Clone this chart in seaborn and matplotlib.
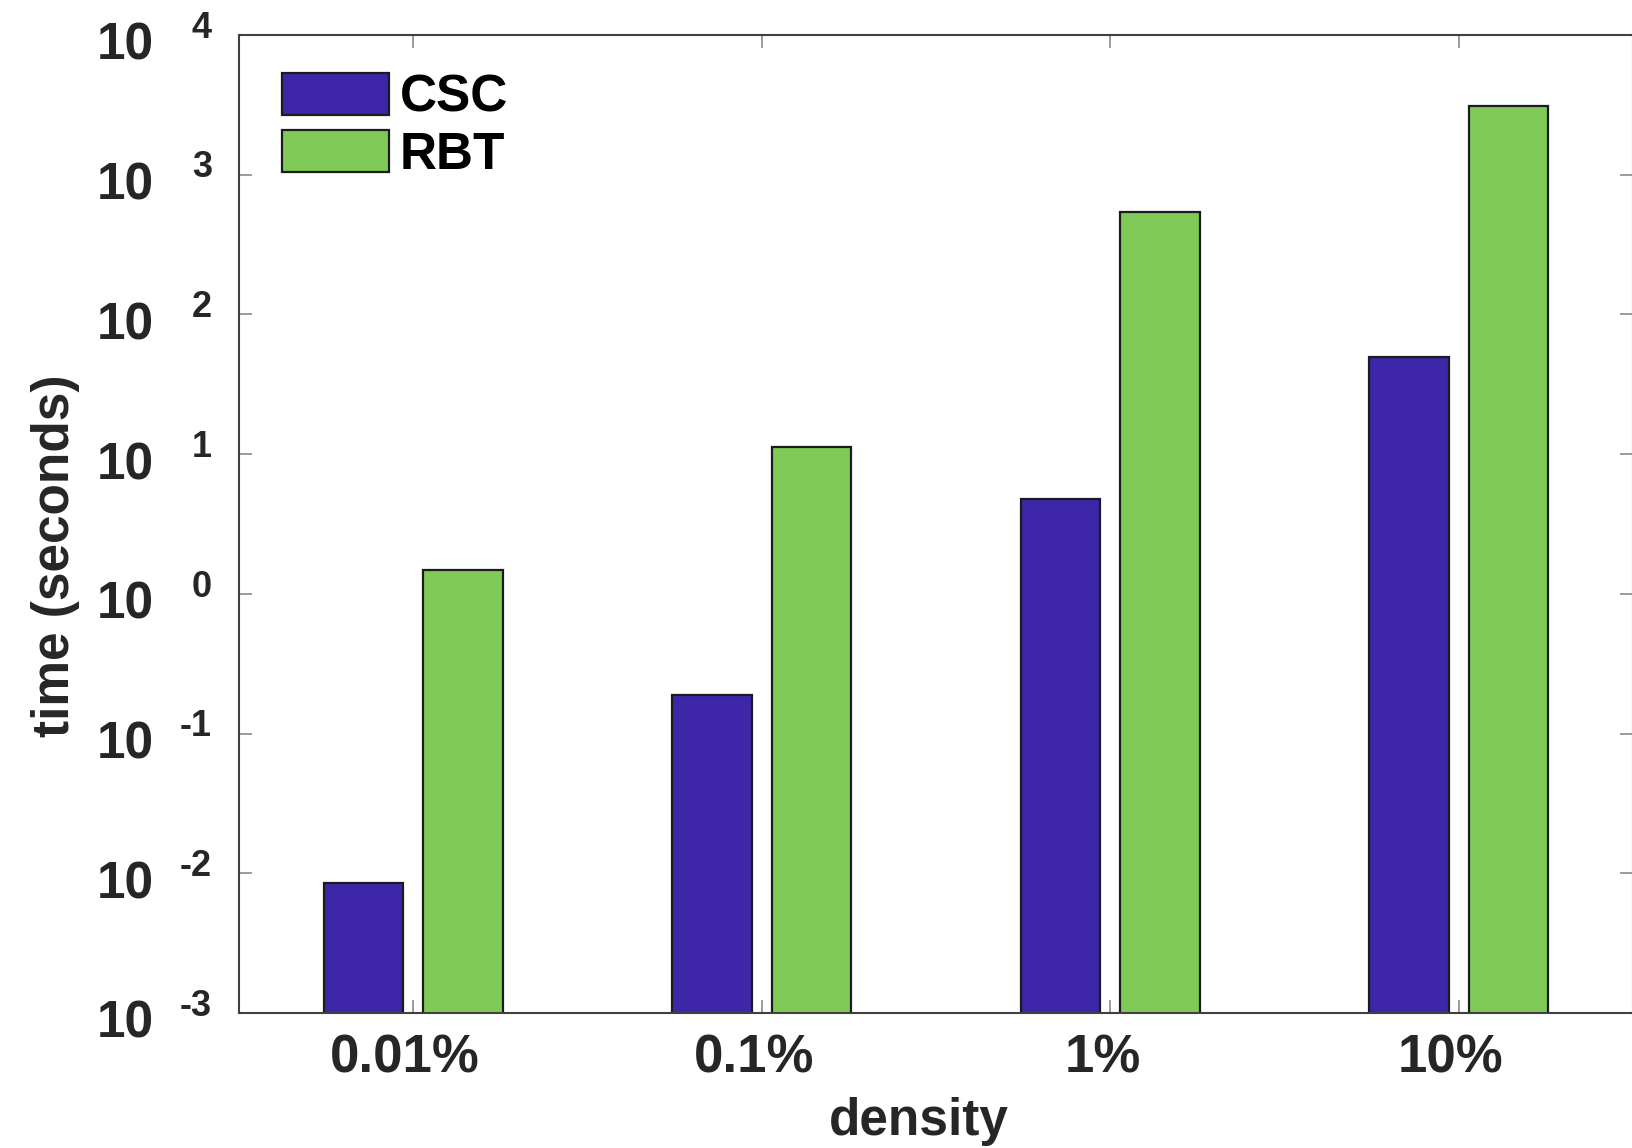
import numpy as np
import pandas as pd
import seaborn as sns
import matplotlib
matplotlib.use("Agg")
import matplotlib.pyplot as plt
from matplotlib.ticker import NullLocator
from matplotlib.transforms import ScaledTranslation

# values (seconds, log axis)
densities = ["0.01%", "0.1%", "1%", "10%"]
methods = ["CSC", "RBT"]
csc_time = [0.0085, 0.189, 4.78, 49.7]
rbt_time = [1.48, 11.3, 542, 3110]
exponents = [-3, -2, -1, 0, 1, 2, 3, 4]
colors = ["#3D26A8", "#80CB58"]

df = pd.DataFrame({
    "density": densities * 2,
    "time": csc_time + rbt_time,
    "method": ["CSC"] * len(densities) + ["RBT"] * len(densities),
})

sns.set_style("ticks")
plt.rcParams["font.family"] = ["Liberation Sans", "DejaVu Sans"]
plt.rcParams["font.weight"] = "bold"
txt = "#262626"

fig = plt.figure(figsize=(16.32, 11.48), dpi=100)
ax = fig.add_axes([239 / 1632, 1 - 1013 / 1148, 1394 / 1632, 978 / 1148])

sns.barplot(data=df, x="density", y="time", hue="method", order=densities,
            hue_order=methods, palette=colors, saturation=1, width=0.57, gap=0.2,
            edgecolor="#1c1c1c", linewidth=1.6, ax=ax)

ax.set_yscale("log")
ax.set_ylim(1e-3, 1e4)
ax.set_xlim(-0.5, 3.5)
ax.set_yticks([10.0 ** e for e in exponents])
ax.set_yticklabels([])
ax.yaxis.set_minor_locator(NullLocator())

for sp in ax.spines.values():
    sp.set_visible(True)
    sp.set_color("#404040")
    sp.set_linewidth(1.5)

ax.tick_params(axis="both", direction="in", length=9.4, width=1.2, color="#8a8a8a",
               top=True, right=True)
ax.tick_params(axis="x", labelsize=38, labelcolor=txt, pad=15)
shift = ScaledTranslation(-8 / 100, 0, fig.dpi_scale_trans)
for lab in ax.get_xticklabels():
    lab.set_fontweight("bold")
    lab.set_transform(lab.get_transform() + shift)

# MATLAB style 10^n tick labels
for e in exponents:
    ax.annotate("10", xy=(0, 10.0 ** e), xycoords=("axes fraction", "data"),
                xytext=(-61, -18), textcoords="offset points", ha="right",
                va="baseline", fontsize=37, fontweight="bold", color=txt,
                annotation_clip=False)
    ax.annotate(str(e), xy=(0, 10.0 ** e), xycoords=("axes fraction", "data"),
                xytext=(-19.5, -2), textcoords="offset points", ha="right",
                va="baseline", fontsize=26, fontweight="bold", color=txt,
                annotation_clip=False)

ax.set_xlabel("density", fontsize=37, fontweight="bold", color=txt)
ax.xaxis.set_label_coords(0.488, -0.086)
ax.set_ylabel("time (seconds)", fontsize=37, fontweight="bold", color=txt)
ax.yaxis.set_label_coords(-0.114, 0.468)

handles, labels = ax.get_legend_handles_labels()
ax.legend(handles, labels, loc="upper left", bbox_to_anchor=(0.031, 0.961),
          frameon=False, borderpad=0, borderaxespad=0, fontsize=37,
          handlelength=2.08, handleheight=0.875, handletextpad=0.2,
          labelspacing=0.14, labelcolor="black")

fig.savefig("out.png", dpi=100)
